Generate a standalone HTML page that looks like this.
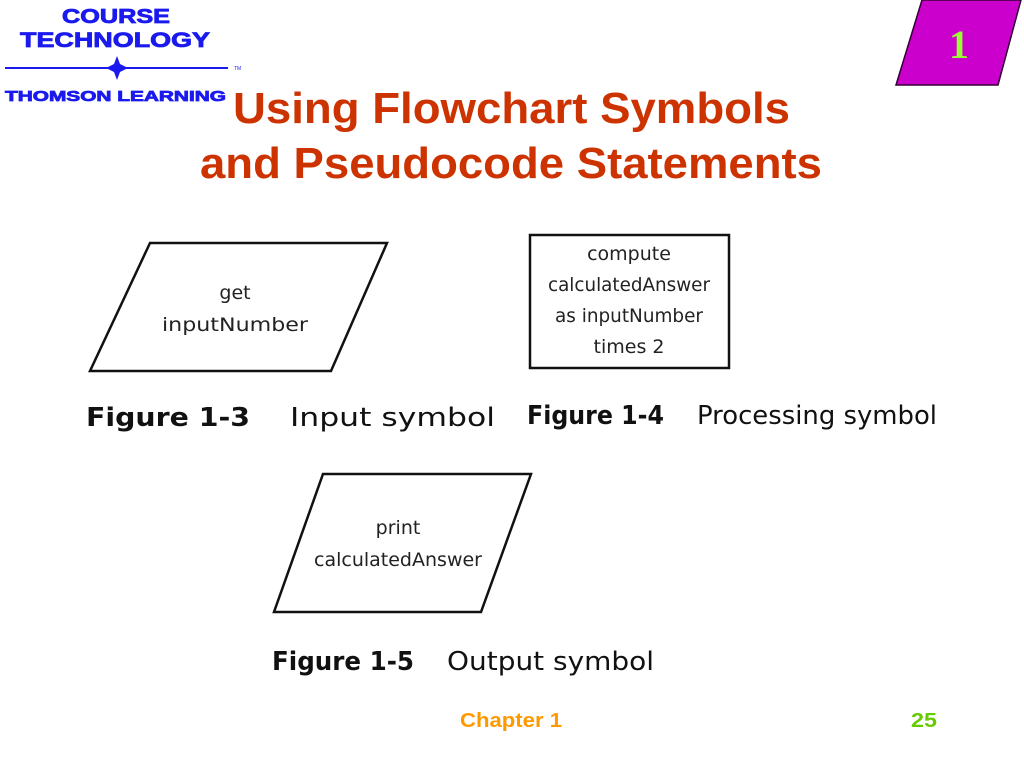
<!DOCTYPE html>
<html><head><meta charset="utf-8"><style>
body{margin:0;width:1024px;height:768px;background:#fff;position:relative;overflow:hidden;font-family:"Liberation Sans",sans-serif}
</style></head><body>
<svg width="1024" height="768" style="position:absolute;left:0;top:0">
<polygon points="922,0 1021,0 998,85 896,85" fill="#cc00cc" stroke="#330033" stroke-width="1.5"/>
<text x="959" y="58" font-family="Liberation Serif" font-weight="bold" font-size="40" fill="#99ff33" text-anchor="middle">1</text>
<line x1="5" y1="68" x2="228" y2="68" stroke="#1a1aee" stroke-width="2"/>
<polygon points="117,56 120,64 128,68 120,72 117,80 114,72 106,68 114,64" fill="#1a1aee"/>
<text x="234" y="70" font-size="5" fill="#1a1aee">TM</text>
<g font-family="Liberation Sans" font-weight="bold" fill="#1a1aee" stroke="#1a1aee" stroke-width="0.8">
<text x="62" y="23" font-size="20" textLength="108" lengthAdjust="spacingAndGlyphs">COURSE</text>
<text x="20" y="47" font-size="21" textLength="190" lengthAdjust="spacingAndGlyphs">TECHNOLOGY</text>
<text x="5" y="101" font-size="15" textLength="221" lengthAdjust="spacingAndGlyphs">THOMSON LEARNING</text>
</g>
<g fill="none" stroke="#111" stroke-width="2.5">
<polygon points="150,243 387,243 331,371 90,371"/>
<rect x="530" y="235" width="199" height="133"/>
<polygon points="323,474 531,474 481,612 274,612"/>
</g>
<g font-family="DejaVu Sans" font-size="19" fill="#222" text-anchor="middle">
<text x="235" y="299">get</text>
<text x="235" y="331" textLength="146" lengthAdjust="spacingAndGlyphs">inputNumber</text>
<text x="629" y="260">compute</text>
<text x="629" y="291" textLength="162" lengthAdjust="spacingAndGlyphs">calculatedAnswer</text>
<text x="629" y="322" textLength="148" lengthAdjust="spacingAndGlyphs">as inputNumber</text>
<text x="629" y="353">times 2</text>
<text x="398" y="534">print</text>
<text x="398" y="566" textLength="168" lengthAdjust="spacingAndGlyphs">calculatedAnswer</text>
</g>
<g font-family="DejaVu Sans" font-size="26" fill="#111" lengthAdjust="spacingAndGlyphs">
<text x="86" y="426" font-weight="bold" textLength="164" lengthAdjust="spacingAndGlyphs">Figure 1-3</text>
<text x="290" y="426" textLength="205" lengthAdjust="spacingAndGlyphs">Input symbol</text>
<text x="527" y="424" font-weight="bold" textLength="137" lengthAdjust="spacingAndGlyphs">Figure 1-4</text>
<text x="697" y="424" textLength="240" lengthAdjust="spacingAndGlyphs">Processing symbol</text>
<text x="272" y="670" font-weight="bold" textLength="142" lengthAdjust="spacingAndGlyphs">Figure 1-5</text>
<text x="447" y="670" textLength="207" lengthAdjust="spacingAndGlyphs">Output symbol</text>
</g>
<g font-family="Liberation Sans" font-weight="bold" font-size="44" fill="#cc3300">
<text x="233" y="123" textLength="557" lengthAdjust="spacingAndGlyphs">Using Flowchart Symbols</text>
<text x="200" y="178" textLength="622" lengthAdjust="spacingAndGlyphs">and Pseudocode Statements</text>
</g>
<text x="460" y="727" font-family="Liberation Sans" font-weight="bold" font-size="20" fill="#ff9900" textLength="102" lengthAdjust="spacingAndGlyphs">Chapter 1</text>
<text x="911" y="727" font-family="Liberation Sans" font-weight="bold" font-size="20" fill="#66cc00" textLength="26" lengthAdjust="spacingAndGlyphs">25</text>
</svg>
</body></html>
